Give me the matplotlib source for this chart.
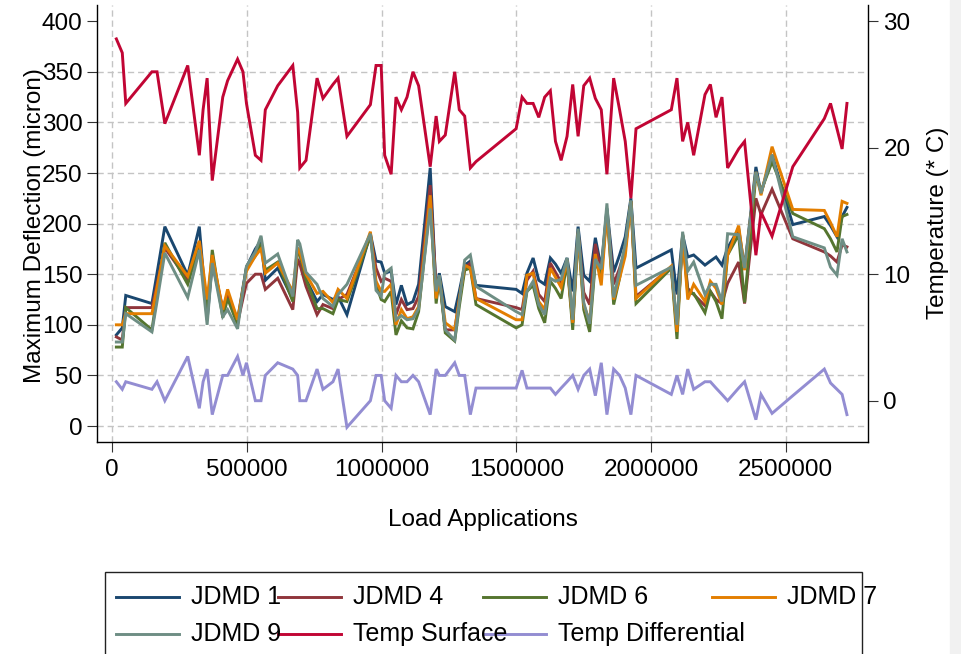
import matplotlib
matplotlib.use("Agg")
import matplotlib.pyplot as plt
from matplotlib.lines import Line2D
from matplotlib.patches import Rectangle

# ── Data ─────────────────────────────────────────────────────────────────────
LOADS = [15000, 37000, 50000, 147000, 166000, 195000, 280000, 323000, 337000,
         352000, 371000, 410000, 428000, 465000, 485000, 498000, 531000,
         552000, 568000, 614000, 670000, 688000, 696000, 719000, 760000,
         782000, 819000, 838000, 871000, 958000, 979000, 998000, 1011000,
         1035000, 1053000, 1073000, 1094000, 1116000, 1137000, 1180000,
         1202000, 1214000, 1236000, 1271000, 1288000, 1308000, 1329000,
         1350000, 1499000, 1521000, 1539000, 1562000, 1583000, 1605000,
         1626000, 1645000, 1666000, 1688000, 1709000, 1729000, 1750000,
         1772000, 1793000, 1815000, 1836000, 1861000, 1883000, 1904000,
         1925000, 1944000, 2075000, 2096000, 2117000, 2136000, 2158000,
         2200000, 2220000, 2241000, 2263000, 2284000, 2325000, 2347000,
         2389000, 2408000, 2449000, 2526000, 2643000, 2666000, 2690000,
         2709000, 2727000]

JDMD1 = [90, 97, 129, 121, 151, 197, 149, 197, 153, 105, 161, 115, 130, 105,
         137, 157, 175, 183, 144, 156, 125, 176, 170, 145, 123, 130, 125, 128,
         110, 190, 163, 162, 151, 153, 120, 139, 120, 123, 140, 255, 133, 151,
         118, 113, 133, 159, 163, 139, 135, 131, 151, 166, 144, 140, 166, 160,
         151, 166, 133, 197, 149, 143, 186, 156, 215, 152, 169, 187, 225, 156,
         174, 130, 189, 167, 169, 159, 163, 167, 159, 176, 195, 156, 256, 230,
         268, 199, 207, 198, 187, 207, 216]
JDMD4 = [88, 85, 117, 117, 140, 176, 144, 182, 147, 110, 164, 116, 131, 102,
         126, 141, 150, 150, 135, 146, 115, 165, 160, 138, 110, 120, 116, 125,
         130, 188, 156, 143, 146, 143, 110, 125, 115, 116, 128, 238, 136, 146,
         95, 95, 125, 156, 161, 126, 117, 115, 144, 153, 130, 123, 161, 152,
         142, 162, 102, 192, 132, 120, 180, 152, 212, 140, 156, 174, 222, 128,
         157, 97, 186, 136, 130, 119, 133, 125, 121, 141, 162, 121, 225, 209,
         234, 185, 172, 168, 162, 179, 177]
JDMD6 = [78, 78, 117, 95, 129, 181, 140, 179, 147, 112, 174, 107, 126, 100,
         135, 156, 168, 180, 154, 162, 123, 175, 170, 145, 116, 116, 111, 125,
         123, 188, 140, 125, 123, 133, 90, 104, 97, 96, 113, 222, 121, 146,
         92, 84, 118, 154, 156, 120, 97, 100, 133, 139, 116, 102, 143, 136,
         126, 162, 95, 190, 115, 93, 162, 149, 213, 120, 146, 177, 222, 121,
         156, 86, 189, 131, 131, 112, 133, 123, 106, 169, 189, 122, 248, 232,
         261, 210, 195, 185, 172, 207, 209]
JDMD7 = [100, 100, 111, 111, 137, 178, 148, 183, 155, 125, 169, 115, 135, 105,
         135, 153, 168, 175, 151, 161, 133, 176, 172, 150, 131, 133, 122, 135,
         126, 192, 143, 133, 133, 140, 100, 115, 106, 108, 118, 228, 126, 146,
         102, 95, 125, 159, 156, 126, 105, 105, 149, 151, 123, 115, 156, 147,
         137, 164, 102, 190, 120, 103, 170, 139, 212, 125, 146, 168, 222, 126,
         158, 93, 189, 125, 140, 123, 143, 136, 120, 169, 198, 154, 251, 228,
         276, 214, 213, 201, 187, 222, 220]
JDMD9 = [83, 83, 111, 93, 123, 171, 127, 174, 138, 100, 161, 108, 115, 96,
         134, 158, 172, 188, 161, 170, 128, 184, 180, 152, 140, 126, 118, 130,
         140, 190, 134, 128, 151, 156, 105, 109, 105, 106, 116, 215, 133, 149,
         95, 85, 122, 164, 169, 138, 113, 110, 133, 143, 120, 110, 146, 143,
         145, 166, 105, 195, 122, 101, 165, 155, 220, 127, 153, 180, 223, 139,
         157, 100, 192, 153, 162, 130, 140, 140, 123, 190, 189, 156, 251, 230,
         268, 187, 176, 157, 149, 185, 172]

TEMP_SURFACE = [28.6, 27.5, 23.5, 26.0, 26.0, 21.9, 26.5, 19.4, 23.0, 25.5,
                17.4, 24.0, 25.3, 27.0, 26.0, 23.5, 19.4, 19.0, 23.0, 24.9,
                26.5, 22.8, 18.4, 19.0, 25.5, 23.9, 25.0, 25.5, 20.9, 23.4,
                26.5, 26.5, 19.4, 17.9, 24.0, 23.0, 24.0, 26.0, 24.9, 18.5,
                22.5, 20.5, 21.0, 26.0, 23.0, 22.5, 18.4, 18.9, 21.5, 24.0,
                23.5, 23.5, 22.4, 24.0, 24.5, 20.5, 19.0, 20.9, 25.0, 20.9,
                24.9, 25.5, 23.9, 23.0, 17.9, 25.5, 23.0, 20.5, 16.0, 21.5,
                23.0, 25.5, 20.5, 22.0, 19.4, 24.2, 25.0, 22.4, 24.0, 18.4,
                19.9, 20.5, 11.5, 14.9, 13.0, 18.5, 22.3, 23.5, 21.5, 19.9,
                23.5]
TEMP_DIFF = [1.5, 0.9, 1.5, 0.9, 1.5, 0.0, 3.5, -0.6, 1.5, 2.5, -1.1, 2.0,
             2.0, 3.5, 2.0, 3.0, 0.0, 0.0, 2.0, 3.0, 2.5, 2.0, 0.0, 0.0, 2.5,
             0.9, 1.5, 2.5, -2.1, 0.0, 2.0, 2.0, 0.0, -0.6, 2.0, 1.5, 1.5,
             2.0, 1.5, -1.1, 2.5, 2.0, 2.0, 3.0, 2.0, 2.0, -1.1, 1.0, 1.0,
             2.4, 1.0, 1.0, 1.0, 1.0, 1.0, 0.5, 1.0, 1.5, 2.0, 0.9, 2.0, 2.5,
             0.4, 3.0, -1.1, 2.5, 2.0, 1.0, -1.1, 2.0, 0.5, 2.0, 0.5, 2.5,
             0.9, 1.5, 1.5, 1.0, 0.5, 0.0, 1.0, 1.5, -1.5, 0.5, -1.0, 0.4,
             2.5, 1.4, 0.9, 0.5, -1.1]

DEFL_SERIES = [("JDMD 1", JDMD1), ("JDMD 4", JDMD4), ("JDMD 6", JDMD6),
               ("JDMD 7", JDMD7), ("JDMD 9", JDMD9)]
TEMP_SERIES = [("Temp Surface", TEMP_SURFACE), ("Temp Differential", TEMP_DIFF)]

X_TICKS = [0, 500000, 1000000, 1500000, 2000000, 2500000]
Y_TICKS = [0, 50, 100, 150, 200, 250, 300, 350, 400]
T_TICKS = [0, 10, 20, 30]

# Stata s2color palette
COLORS = {
    "JDMD 1": "#1a476f", "JDMD 4": "#90353b", "JDMD 6": "#55752f",
    "JDMD 7": "#e37e00", "JDMD 9": "#6e8e84",
    "Temp Surface": "#c10534", "Temp Differential": "#938dd2",
}

FONT = ["Liberation Sans", "DejaVu Sans"]
FS = 17.5
W, H = 962, 654

plt.rcParams["font.family"] = FONT

fig = plt.figure(figsize=(W / 100, H / 100), dpi=100)
fig.patch.set_facecolor("white")

# plot region in pixel terms
L, R, T, B = 97.3, 867.7, 5.0, 441.7
ax = fig.add_axes([L / W, (H - B) / H, (R - L) / W, (B - T) / H])
ax2 = ax.twinx()

for name, vals in DEFL_SERIES:
    ax.plot(LOADS, vals, color=COLORS[name], lw=2.1, zorder=3,
            solid_joinstyle="miter")
for name, vals in TEMP_SERIES:
    ax2.plot(LOADS, vals, color=COLORS[name], lw=2.1, zorder=3,
             solid_joinstyle="miter")

# ── Axes ─────────────────────────────────────────────────────────────────────
ax.set_xlim(-55700, 2804000)
ax.set_ylim(-15.5, 416.0)
# right axis tied to left: L = 25 + 12.5 * T
ax2.set_ylim((-15.5 - 25) / 12.5, (416.0 - 25) / 12.5)

grid_kw = dict(color="#c4c4c4", lw=1.0, ls=(0, (4.5, 2.8)), zorder=1)
for xv in X_TICKS:
    ax.axvline(xv, **grid_kw)
for yv in Y_TICKS[:-1]:
    ax.axhline(yv, **grid_kw)

ax.set_xticks(X_TICKS)
ax.set_xticklabels([str(v) for v in X_TICKS])
ax.set_yticks(Y_TICKS)
ax2.set_yticks(T_TICKS)

ax.tick_params(axis="x", direction="out", length=7.2, width=0.8,
               color="#333333", labelsize=FS, pad=5.5)
ax.tick_params(axis="y", direction="out", length=7.2, width=0.8,
               color="#333333", labelsize=FS, pad=3.5)
ax2.tick_params(axis="y", direction="out", length=7.2, width=0.8,
                color="#333333", labelsize=FS, pad=4.0)

for a in (ax, ax2):
    a.spines["top"].set_visible(False)
    for s in a.spines.values():
        s.set_linewidth(1.0)
        s.set_color("black")
ax.spines["right"].set_visible(False)
ax2.spines["left"].set_visible(False)
ax2.spines["bottom"].set_visible(False)
ax2.patch.set_visible(False)

fig.text(35 / W, 1 - 226 / H, "Maximum Deflection (micron)", rotation=90,
         ha="center", va="center", fontsize=FS)
fig.text(938 / W, 1 - 223 / H, "Temperature (* C)", rotation=90,
         ha="center", va="center", fontsize=FS)
fig.text(482.5 / W, 1 - 520 / H, "Load Applications",
         ha="center", va="center", fontsize=FS)

# ── Legend (Stata-style fixed grid) ──────────────────────────────────────────
fig.patches.append(Rectangle((105 / W, -0.02), (862 - 105) / W,
                             (H - 572) / H + 0.02, transform=fig.transFigure,
                             fill=False, edgecolor="#222222", lw=1.0))
col_x = [116, 278, 483, 712]
row_y = [597, 634]
entries = [n for n, _ in DEFL_SERIES] + [n for n, _ in TEMP_SERIES]
for i, name in enumerate(entries):
    cx, cy = col_x[i % 4], row_y[i // 4]
    fig.lines.append(Line2D([cx / W, (cx + 63) / W], [1 - cy / H, 1 - cy / H],
                            transform=fig.transFigure, color=COLORS[name],
                            lw=2.1))
    fig.text((cx + 75) / W, 1 - cy / H, name, ha="left", va="center",
             fontsize=18)

# scrollbar strip at the right edge of the screenshot
fig.patches.append(Rectangle((950 / W, 0), 12 / W, 1,
                             transform=fig.transFigure, color="#f1f1f1",
                             zorder=0))

fig.savefig("out.png", dpi=100)
